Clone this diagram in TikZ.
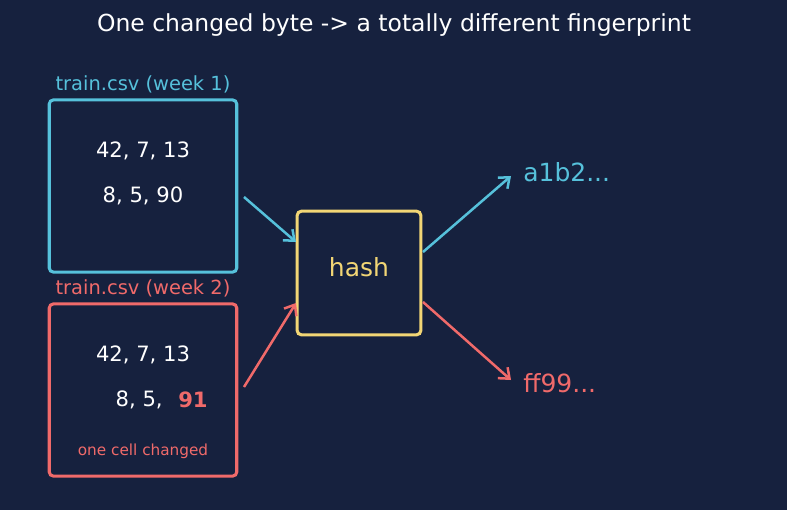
\documentclass[tikz,border=0pt]{standalone}
\usepackage{fontspec}
\setmainfont{DejaVu Sans}
\usetikzlibrary{arrows.meta}

\definecolor{bgnavy}{HTML}{16213E}
\definecolor{cyanc}{HTML}{56C1DB}
\definecolor{redc}{HTML}{F06A6A}
\definecolor{yellowc}{HTML}{F2D675}

\newcommand{\fs}[1]{\fontsize{#1}{#1}\selectfont}

\tikzset{
  databox/.style={draw, line width=2.2pt, rounded corners=3pt, minimum width=135pt, minimum height=124pt, inner sep=0pt},
  hashbox/.style={draw=yellowc, line width=2.2pt, rounded corners=3pt, minimum width=89pt, minimum height=89pt, inner sep=0pt},
  txt/.style={inner sep=0pt, anchor=center},
  flow/.style={line width=1.8pt, -{Straight Barb[length=6.5pt, width=10.5pt, line width=1.8pt]}},
}

\begin{document}
\begin{tikzpicture}[x=0.72pt, y=-0.72pt]
  \fill[bgnavy] (0,0) rectangle (787,510);
  \useasboundingbox (0,0) rectangle (787,510);

  % title
  \node[txt, text=white] (title) at (394,25) {\fs{16.9}One changed byte -> a totally different fingerprint};

  % week 1 file
  \node[txt, text=cyanc] (lab1) at (143,84) {\fs{14}train.csv (week 1)};
  \node[databox, draw=cyanc] (file1) at (143,186) {};
  \node[txt, text=white] (r11) at (143,151) {\fs{15.2}42, 7, 13};
  \node[txt, text=white] (r12) at (143,196) {\fs{15.2}8, 5, 90};

  % week 2 file
  \node[txt, text=redc] (lab2) at (143,288) {\fs{14}train.csv (week 2)};
  \node[databox, draw=redc] (file2) at (143,390) {};
  \node[txt, text=white] (r21) at (143,355) {\fs{15.2}42, 7, 13};
  \node[txt, text=white, anchor=east] (r22) at (163,400) {\fs{15.2}8, 5,};
  \node[txt, text=redc, anchor=west] (cell) at (178,400) {\fs{15.2}\bfseries 91};
  \node[txt, text=redc] (note) at (143,451) {\fs{11}one cell changed};

  % hash function
  \node[hashbox] (hash) at (359,273) {};
  \node[txt, text=yellowc] (hashlab) at (359,267) {\fs{18}hash};

  % fingerprints
  \node[txt, text=cyanc, anchor=west] (fp1) at (523,172) {\fs{18}a1b2...};
  \node[txt, text=redc, anchor=west] (fp2) at (523,383) {\fs{18}ff99...};

  % arrow end points
  \coordinate (f1out) at (244,197);
  \coordinate (h1in) at (296,242);
  \coordinate (f2out) at (244,387);
  \coordinate (h2in) at (296,303);
  \coordinate (h1out) at (423,252);
  \coordinate (fp1in) at (511,176);
  \coordinate (h2out) at (423,302);
  \coordinate (fp2in) at (511,380);

  \draw[flow, cyanc] (f1out) -- (h1in);
  \draw[flow, redc] (f2out) -- (h2in);
  \draw[flow, cyanc] (h1out) -- (fp1in);
  \draw[flow, redc] (h2out) -- (fp2in);
\end{tikzpicture}
\end{document}
